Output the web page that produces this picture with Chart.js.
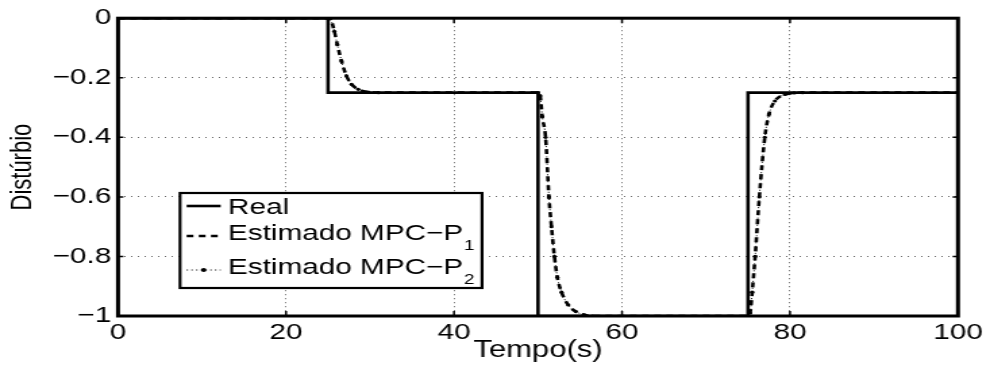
<!DOCTYPE html>
<html>
<head>
<meta charset="utf-8">
<title>Distúrbio</title>
<script src="https://cdn.jsdelivr.net/npm/chart.js@4.4.1/dist/chart.umd.min.js"></script>
<style>
  html, body { margin: 0; padding: 0; background: #fff; overflow: hidden; }
  /* the figure is drawn narrow and then widened, which gives the wide MATLAB-style lettering */
  #wrap { width: 733px; height: 370px; transform: scaleX(1.3506); transform-origin: 0 0; }
</style>
</head>
<body>
<div id="wrap"><canvas id="chart" width="733" height="370"></canvas></div>
<script>
  // disturbance: real value (step changes)
  const tReal = [0, 25, 25, 50, 50, 75, 75, 100];
  const yReal = [0, 0, -0.25, -0.25, -1, -1, -0.25, -0.25];

  // estimated disturbance, observers of MPC-P1 and MPC-P2
  const tEst = [0, 25, 25.25, 25.75, 26.1, 26.6, 27.2, 27.8, 28.6, 29.8, 31,
                50, 50.25, 50.5, 50.9, 51.3, 51.6, 51.95, 52.3, 52.8, 53.6, 54.5, 55.5, 56.5,
                75, 75.25, 75.5, 75.85, 76.35, 77.0, 77.5, 78.2, 79.4, 80.5, 81.5, 100];
  const yEstP1 = [0, 0, -0.002, -0.044, -0.088, -0.144, -0.194, -0.222, -0.239, -0.248, -0.25,
                  -0.25, -0.26, -0.33, -0.40, -0.60, -0.70, -0.80, -0.87, -0.92, -0.963, -0.985, -0.996, -1,
                  -1, -0.99, -0.92, -0.80, -0.60, -0.40, -0.322, -0.278, -0.256, -0.251, -0.25, -0.25];
  const yEstP2 = [0, 0, -0.002, -0.044, -0.088, -0.144, -0.194, -0.222, -0.239, -0.248, -0.25,
                  -0.25, -0.26, -0.33, -0.40, -0.60, -0.70, -0.80, -0.87, -0.92, -0.963, -0.985, -0.996, -1,
                  -1, -0.99, -0.92, -0.80, -0.60, -0.40, -0.322, -0.278, -0.256, -0.251, -0.25, -0.25];

  // legend text: main part + subscript
  const legendNames = [['Real', ''], ['Estimado MPC\u2212P', '1'], ['Estimado MPC\u2212P', '2']];

  const FONT = "'Liberation Sans', Arial, Helvetica, sans-serif";
  const W = 733, H = 370;
  const PLOT_LEFT = 87.4, PLOT_RIGHT_PAD = 23.7, PLOT_TOP = 17, PLOT_BOTTOM = 316;

  const toXY = (xs, ys) => xs.map((x, i) => ({ x, y: ys[i] }));
  const fmtTick = (v) => String(Math.round(v * 10) / 10).replace('-', '\u2212');

  // inner tick marks, box around the axes and the legend
  const axisFrame = {
    id: 'axisFrame',
    afterDatasetsDraw(chart) {
      const { ctx, chartArea: a, scales: { x, y } } = chart;
      ctx.save();
      ctx.strokeStyle = '#000';
      ctx.lineWidth = 1.5;
      ctx.beginPath();
      x.ticks.forEach(t => {
        const px = x.getPixelForValue(t.value);
        ctx.moveTo(px, a.bottom); ctx.lineTo(px, a.bottom - 5);
        ctx.moveTo(px, a.top); ctx.lineTo(px, a.top + 5);
      });
      y.ticks.forEach(t => {
        const py = y.getPixelForValue(t.value);
        ctx.moveTo(a.left, py); ctx.lineTo(a.left + 4, py);
        ctx.moveTo(a.right, py); ctx.lineTo(a.right - 4, py);
      });
      ctx.stroke();
      ctx.lineWidth = 3;
      ctx.strokeRect(a.left, a.top, a.right - a.left, a.bottom - a.top);
      ctx.restore();
    },
    afterDraw(chart) {
      const { ctx } = chart;
      const box = { x: 133.3, y: 193, w: 223.6, h: 95 };
      const textY = [208, 234, 267.5];
      const lineY = [206, 236, 270];
      const x0 = 138.2, x1 = 163.4, tx = 168.8;

      ctx.save();
      ctx.fillStyle = '#fff';
      ctx.fillRect(box.x, box.y, box.w, box.h);
      ctx.strokeStyle = '#000';
      ctx.lineWidth = 2.2;
      ctx.setLineDash([]);
      ctx.strokeRect(box.x, box.y, box.w, box.h);

      chart.data.datasets.forEach((ds, i) => {
        ctx.save();
        ctx.strokeStyle = ds.borderColor;
        ctx.lineWidth = ds.borderWidth;
        ctx.setLineDash(ds.borderDash || []);
        ctx.beginPath();
        ctx.moveTo(x0, lineY[i]);
        ctx.lineTo(x1, lineY[i]);
        ctx.stroke();
        if (ds.pointRadius > 0) {
          ctx.fillStyle = ds.pointBackgroundColor;
          ctx.beginPath();
          ctx.arc((x0 + x1) / 2, lineY[i], ds.pointRadius + 0.4, 0, Math.PI * 2);
          ctx.fill();
        }
        ctx.restore();

        const [main, sub] = legendNames[i];
        ctx.fillStyle = '#000';
        ctx.textBaseline = 'middle';
        ctx.textAlign = 'left';
        ctx.font = `22px ${FONT}`;
        ctx.fillText(main, tx, textY[i]);
        if (sub) {
          const wMain = ctx.measureText(main).width;
          ctx.font = `14px ${FONT}`;
          ctx.fillText(sub, tx + wMain + 0.5, textY[i] + 12.5);
        }
      });
      ctx.restore();
    }
  };

  new Chart(document.getElementById('chart'), {
    type: 'line',
    data: {
      datasets: [
        {
          label: 'Real',
          data: toXY(tReal, yReal),
          borderColor: '#000',
          borderWidth: 2.6,
          pointRadius: 0,
          order: 3
        },
        {
          label: 'Estimado MPC-P1',
          data: toXY(tEst, yEstP1),
          borderColor: '#000',
          borderWidth: 2.6,
          borderDash: [5, 4],
          pointRadius: 0,
          cubicInterpolationMode: 'monotone',
          order: 2
        },
        {
          label: 'Estimado MPC-P2',
          data: toXY(tEst, yEstP2),
          borderColor: '#000',
          borderWidth: 1,
          borderDash: [1, 2.5],
          pointRadius: 1.6,
          pointBorderWidth: 0,
          pointBackgroundColor: '#000',
          cubicInterpolationMode: 'monotone',
          order: 1
        }
      ]
    },
    options: {
      responsive: false,
      animation: false,
      events: [],
      layout: { padding: { left: 0, right: PLOT_RIGHT_PAD, top: PLOT_TOP, bottom: 0 } },
      plugins: { legend: { display: false }, tooltip: { enabled: false } },
      scales: {
        x: {
          type: 'linear',
          min: 0,
          max: 100,
          afterFit: (s) => { s.height = H - PLOT_BOTTOM; },
          ticks: {
            stepSize: 20,
            maxRotation: 0,
            padding: 4,
            color: '#000',
            font: { family: FONT, size: 22 }
          },
          grid: { color: 'rgba(0,0,0,0.6)', lineWidth: 1, drawTicks: false },
          border: { display: false, dash: [1, 3] },
          title: {
            display: true,
            text: 'Tempo(s)',
            color: '#000',
            font: { family: FONT, size: 23 },
            padding: { top: 0, bottom: 6 }
          }
        },
        y: {
          type: 'linear',
          min: -1,
          max: 0,
          afterFit: (s) => { s.width = PLOT_LEFT; },
          ticks: {
            stepSize: 0.2,
            padding: 5,
            color: '#000',
            font: { family: FONT, size: 22 },
            callback: fmtTick
          },
          grid: { color: 'rgba(0,0,0,0.6)', lineWidth: 1, drawTicks: false },
          border: { display: false, dash: [1, 4] },
          title: {
            display: true,
            text: 'Distúrbio',
            color: '#000',
            font: { family: FONT, size: 22 },
            padding: { top: 4, bottom: 0 }
          }
        }
      }
    },
    plugins: [axisFrame]
  });
</script>
</body>
</html>
